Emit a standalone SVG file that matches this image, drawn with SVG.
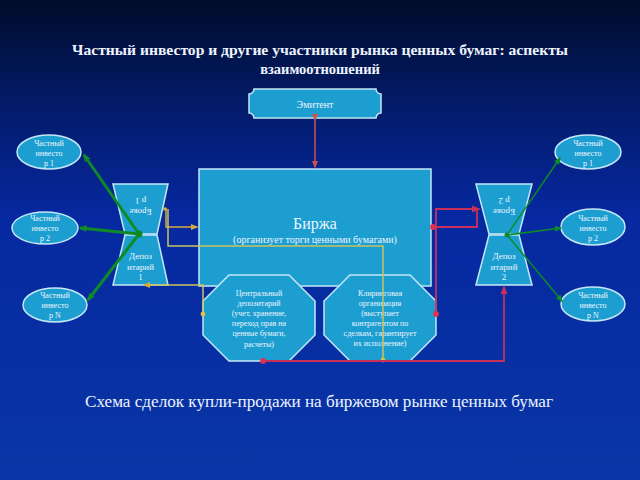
<svg xmlns="http://www.w3.org/2000/svg" width="640" height="480" viewBox="0 0 640 480">
<defs>
<linearGradient id="bg" x1="0" y1="0" x2="0" y2="1">
<stop offset="0" stop-color="#000c2a"/>
<stop offset="0.2" stop-color="#031a64"/>
<stop offset="0.45" stop-color="#0628a0"/>
<stop offset="1" stop-color="#0936a6"/>
</linearGradient>
<marker id="ag" viewBox="0 0 10 10" refX="8" refY="5" markerWidth="2.8" markerHeight="2.8" orient="auto"><path d="M0,1 L10,5 L0,9 z" fill="#0e8a26"/></marker>
<marker id="ag2" viewBox="0 0 10 10" refX="8" refY="5" markerWidth="5" markerHeight="5" orient="auto"><path d="M0,1 L10,5 L0,9 z" fill="#0e8a26"/></marker>
<marker id="ay" viewBox="0 0 10 10" refX="8" refY="5" markerWidth="5" markerHeight="5" orient="auto"><path d="M0,1 L10,5 L0,9 z" fill="#d8a840"/></marker>
<marker id="ar" viewBox="0 0 10 10" refX="8" refY="5" markerWidth="5" markerHeight="5" orient="auto"><path d="M0,1 L10,5 L0,9 z" fill="#c8305c"/></marker>
<marker id="are" viewBox="0 0 10 10" refX="8" refY="5" markerWidth="5" markerHeight="5" orient="auto"><path d="M0,1 L10,5 L0,9 z" fill="#d05050"/></marker>
<marker id="dy" viewBox="0 0 10 10" refX="5" refY="5" markerWidth="4" markerHeight="4"><circle cx="5" cy="5" r="4" fill="#e0c040"/></marker>
<marker id="dr" viewBox="0 0 10 10" refX="5" refY="5" markerWidth="4" markerHeight="4"><circle cx="5" cy="5" r="4" fill="#e03050"/></marker>
</defs>
<style>
.sh{fill:#1c9ed0;stroke:#c4e6f6;stroke-width:1.5}
.t{font-family:"Liberation Serif","DejaVu Serif",serif;fill:#eef4ff;text-anchor:middle}
.s8{font-size:8px}
.s9{font-size:9px}
.g{stroke:#0e8a26;fill:none}
.y{stroke:#d8a840;fill:none;stroke-width:1.5}
.yl{stroke:#c8c460;fill:none;stroke-width:1.5}
.r{stroke:#c8305c;fill:none;stroke-width:1.8}
</style>
<rect width="640" height="480" fill="url(#bg)"/>

<g id="title">
<text class="t" x="320" y="55" font-size="14.5" font-weight="bold" textLength="496" lengthAdjust="spacingAndGlyphs">Частный инвестор и другие участники рынка ценных бумаг: аспекты</text>
<text class="t" x="320" y="74" font-size="14.5" font-weight="bold">взаимоотношений</text>
</g>

<g id="emitent">
<path class="sh" d="M254,89 H376 A5,5 0 0 0 381,94 V113 A5,5 0 0 0 376,118 H254 A5,5 0 0 0 249,113 V94 A5,5 0 0 0 254,89 Z"/>
<text class="t" x="315" y="108" font-size="10">Эмитент</text>
</g>

<g id="birzha">
<rect class="sh" x="199" y="169" width="232" height="117"/>
<text class="t" x="315" y="229" font-size="16">Биржа</text>
<text class="t" x="315" y="243" font-size="10">(организует торги ценными бумагами)</text>
</g>

<g id="broker1">
<path class="sh" d="M113,184 H168 L157,234 H125 Z"/>
<g transform="rotate(180 140.5 205)">
<text class="t s9" x="140.5" y="201">Броке</text>
<text class="t s9" x="140.5" y="212">р 1</text>
</g>
</g>
<g id="depo1">
<path class="sh" d="M125,235 H157 L168,285 H113 Z"/>
<text class="t s9" x="140.5" y="259">Депоз</text>
<text class="t s9" x="140.5" y="270">итарий</text>
<text class="t s9" x="140.5" y="280">1</text>
</g>

<g id="broker2">
<path class="sh" d="M476,184 H532 L519,234 H489 Z"/>
<g transform="rotate(180 504 205)">
<text class="t s9" x="504" y="201">Броке</text>
<text class="t s9" x="504" y="212">р 2</text>
</g>
</g>
<g id="depo2">
<path class="sh" d="M489,235 H519 L532,285 H476 Z"/>
<text class="t s9" x="504" y="259">Депоз</text>
<text class="t s9" x="504" y="270">итарий</text>
<text class="t s9" x="504" y="280">2</text>
</g>

<g id="csd">
<polygon class="sh" points="229,275 289,275 315,301 315,335 289,361 229,361 203,335 203,301"/>
<text class="t s8" x="259" y="296">Центральный</text>
<text class="t s8" x="259" y="306">депозитарий</text>
<text class="t s8" x="259" y="316">(учет, хранение,</text>
<text class="t s8" x="259" y="326">переход прав на</text>
<text class="t s8" x="259" y="336">ценные бумаги,</text>
<text class="t s8" x="259" y="347">расчеты)</text>
</g>

<g id="clearing">
<polygon class="sh" points="350,275 410,275 436,301 436,335 410,361 350,361 324,335 324,301"/>
<text class="t s8" x="380" y="296">Клиринговая</text>
<text class="t s8" x="380" y="306">организация</text>
<text class="t s8" x="380" y="316">(выступает</text>
<text class="t s8" x="380" y="326">контрагентом по</text>
<text class="t s8" x="380" y="336">сделкам, гарантирует</text>
<text class="t s8" x="380" y="346">их исполнение)</text>
</g>

<g id="inv-l1"><ellipse class="sh" cx="49" cy="152" rx="32" ry="17"/>
<text class="t s8" x="49" y="146">Частный</text><text class="t s8" x="49" y="156">инвесто</text><text class="t s8" x="49" y="166">р 1</text></g>
<g id="inv-l2"><ellipse class="sh" cx="45" cy="228" rx="33" ry="16"/>
<text class="t s8" x="45" y="221">Частный</text><text class="t s8" x="45" y="231">инвесто</text><text class="t s8" x="45" y="241">р 2</text></g>
<g id="inv-ln"><ellipse class="sh" cx="55" cy="305" rx="32" ry="17"/>
<text class="t s8" x="55" y="298">Частный</text><text class="t s8" x="55" y="308">инвесто</text><text class="t s8" x="55" y="318">р N</text></g>
<g id="inv-r1"><ellipse class="sh" cx="588" cy="152" rx="33" ry="17"/>
<text class="t s8" x="588" y="146">Частный</text><text class="t s8" x="588" y="156">инвесто</text><text class="t s8" x="588" y="166">р 1</text></g>
<g id="inv-r2"><ellipse class="sh" cx="593" cy="227" rx="32" ry="18"/>
<text class="t s8" x="593" y="221">Частный</text><text class="t s8" x="593" y="231">инвесто</text><text class="t s8" x="593" y="241">р 2</text></g>
<g id="inv-rn"><ellipse class="sh" cx="593" cy="304" rx="32" ry="17"/>
<text class="t s8" x="593" y="298">Частный</text><text class="t s8" x="593" y="308">инвесто</text><text class="t s8" x="593" y="318">р N</text></g>

<g id="connectors">
<line x1="315" y1="120" x2="315" y2="167" stroke="#d05050" stroke-width="1.5" marker-start="url(#are)" marker-end="url(#are)"/>
<circle cx="139" cy="234" r="3.5" fill="#0e8a26"/>
<line class="g" stroke-width="3" x1="139" y1="234" x2="84" y2="155" marker-end="url(#ag)"/>
<line class="g" stroke-width="3" x1="139" y1="234" x2="80" y2="228" marker-end="url(#ag)"/>
<line class="g" stroke-width="3" x1="139" y1="234" x2="88" y2="300" marker-end="url(#ag)"/>
<circle cx="507" cy="235" r="2.5" fill="#0e8a26"/>
<line class="g" stroke-width="1.5" x1="507" y1="235" x2="560" y2="158" marker-end="url(#ag2)"/>
<line class="g" stroke-width="1.5" x1="507" y1="235" x2="561" y2="228" marker-end="url(#ag2)"/>
<line class="g" stroke-width="1.5" x1="507" y1="235" x2="562" y2="301" marker-end="url(#ag2)"/>
<path class="y" d="M165,209 H166 V227 H197" marker-end="url(#ay)"/>
<circle cx="165" cy="209" r="1.8" fill="#e0b040"/>
<path class="yl" d="M168,209 V246 H383 V360" marker-end="url(#dy)"/>
<path class="yl" d="M203,314 V285 H144" marker-start="url(#dy)" marker-end="url(#ay)"/>
<path class="r" d="M433,227 H477 V209 H479" marker-start="url(#dr)" marker-end="url(#ar)"/>
<path class="r" d="M436,314 V209 H477" marker-start="url(#dr)"/>
<path class="r" d="M263,361 H504 V287" marker-start="url(#dr)" marker-end="url(#ar)"/>
</g>

<g id="caption">
<text class="t" x="319" y="407" font-size="16" textLength="468" lengthAdjust="spacingAndGlyphs">Схема сделок купли-продажи на биржевом рынке ценных бумаг</text>
</g>
</svg>
